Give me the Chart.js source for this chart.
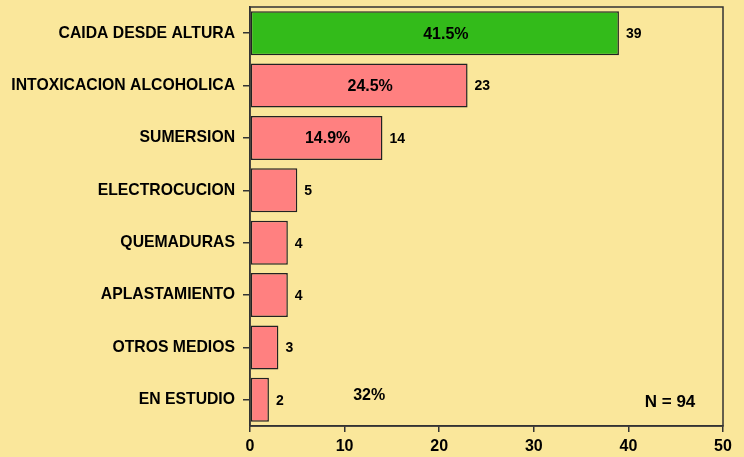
<!DOCTYPE html>
<html>
<head>
<meta charset="utf-8">
<script src="https://cdn.jsdelivr.net/npm/chart.js@4/dist/chart.umd.min.js"></script>
<style>
  html, body { margin: 0; padding: 0; background: #fae79b; }
  #wrap { width: 744px; height: 457px; }
</style>
</head>
<body>
<div id="wrap"><canvas id="chart"></canvas></div>
<script>
const categories = ["CAIDA DESDE ALTURA", "INTOXICACION ALCOHOLICA", "SUMERSION", "ELECTROCUCION",
  "QUEMADURAS", "APLASTAMIENTO", "OTROS MEDIOS", "EN ESTUDIO"];
const counts = [39, 23, 14, 5, 4, 4, 3, 2];
const percents = ["41.5%", "24.5%", "14.9%", "", "", "", "", ""];
const xTicks = [0, 10, 20, 30, 40, 50];
const noteText = "32%";
const totalText = "N = 94";

const FONT = "'Liberation Sans', Arial, sans-serif";

const labelPlugin = {
  id: "labels",
  afterDatasetsDraw(chart) {
    const ctx = chart.ctx;
    const meta = chart.getDatasetMeta(0);
    const area = chart.chartArea;
    const xs = chart.scales.x;
    ctx.save();
    ctx.fillStyle = "#000";
    ctx.textBaseline = "middle";
    meta.data.forEach((bar, i) => {
      ctx.font = "bold 14px " + FONT;
      ctx.textAlign = "left";
      ctx.fillText(String(counts[i]), bar.x + 7, bar.y + 1);
      if (percents[i]) {
        ctx.font = "bold 16px " + FONT;
        ctx.textAlign = "center";
        ctx.fillText(percents[i], (bar.x + bar.base) / 2 + 11, bar.y + 1);
      }
    });
    ctx.textAlign = "center";
    const last = meta.data[meta.data.length - 1];
    ctx.font = "bold 16px " + FONT;
    ctx.fillText(noteText, xs.getPixelForValue(12.6), last.y - 4);
    ctx.font = "bold 17px " + FONT;
    ctx.fillText(totalText, xs.getPixelForValue(44.4), last.y + 2);
    // frame
    ctx.strokeStyle = "#333";
    ctx.lineWidth = 1.5;
    ctx.strokeRect(area.left, area.top, area.right - area.left, area.bottom - area.top);
    ctx.restore();
  }
};

new Chart(document.getElementById("chart"), {
  type: "bar",
  data: {
    labels: categories,
    datasets: [{
      data: counts,
      backgroundColor: counts.map((v, i) => i === 0 ? "#33bb1a" : "#ff8080"),
      borderColor: "#222",
      borderWidth: 1.5,
      borderSkipped: false,
      barPercentage: 0.84,
      categoryPercentage: 1.0
    }]
  },
  options: {
    indexAxis: "y",
    responsive: true,
    maintainAspectRatio: false,
    animation: false,
    layout: { padding: { top: 7, right: 21, bottom: 0, left: 0 } },
    plugins: { legend: { display: false }, tooltip: { enabled: false } },
    scales: {
      x: {
        min: 0,
        max: 50,
        afterBuildTicks(scale) { scale.ticks = xTicks.map(v => ({ value: v })); },
        afterFit(scale) { scale.height = 31; },
        grid: { drawOnChartArea: false, drawTicks: true, tickLength: 6, color: "#333", lineWidth: 1.5 },
        border: { display: true, color: "#333", width: 1.5 },
        ticks: { color: "#000", font: { family: FONT, size: 16, weight: "bold" }, padding: 5, maxRotation: 0 }
      },
      y: {
        afterFit(scale) {
          scale.width = 250;
          scale.paddingTop = 0;
          scale.paddingBottom = 0;
        },
        grid: { offset: false, drawOnChartArea: false, drawTicks: true, tickLength: 7, color: "#333", lineWidth: 1.5 },
        border: { display: true, color: "#333", width: 1.5 },
        ticks: { color: "#000", font: { family: FONT, size: 15.75, weight: "bold" }, padding: 8, autoSkip: false }
      }
    }
  },
  plugins: [labelPlugin]
});
</script>
</body>
</html>
